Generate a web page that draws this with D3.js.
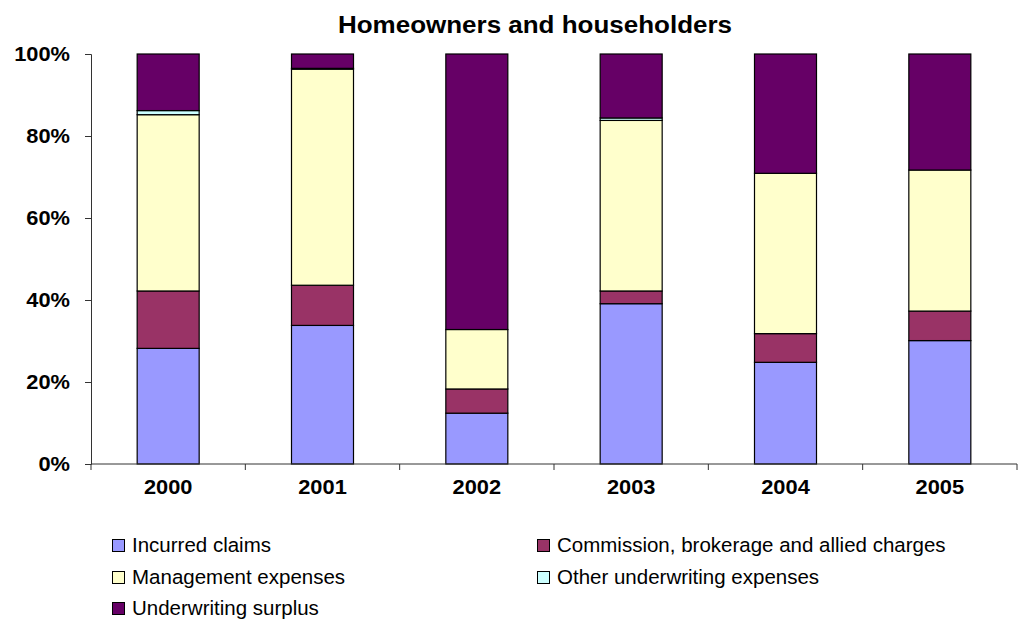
<!DOCTYPE html>
<html>
<head>
<meta charset="utf-8">
<script src="https://cdn.jsdelivr.net/npm/d3@7"></script>
<style>
  html, body { margin: 0; padding: 0; background: #fff; }
  svg { display: block; font-family: "Liberation Sans", Arial, sans-serif; }
</style>
</head>
<body>
<svg id="chart" width="1020" height="624"></svg>
<script>
// Years on the category axis
const years = ["2000", "2001", "2002", "2003", "2004", "2005"];

// Share of premium (%) for each component, stacked bottom to top
const incurredClaims = [28.2, 33.8, 12.4, 39.1, 24.8, 30.1];
const commission     = [14.0,  9.8,  5.9,  3.1,  7.0,  7.2];
const management     = [43.0, 52.7, 14.5, 41.6, 39.1, 34.4];
const otherExpenses  = [ 1.0,  0.2,  0.0,  0.6,  0.0,  0.0];
const surplus        = [13.8,  3.5, 67.2, 15.6, 29.1, 28.3];

const seriesNames = [
  "Incurred claims",
  "Commission, brokerage and allied charges",
  "Management expenses",
  "Other underwriting expenses",
  "Underwriting surplus"
];
const seriesColors = ["#9999FF", "#993366", "#FFFFCC", "#CCFFFF", "#660066"];
const yTicks = [0, 0.2, 0.4, 0.6, 0.8, 1.0];

const seriesValues = [incurredClaims, commission, management, otherExpenses, surplus];
const keys = d3.range(seriesNames.length).map(String);
const rows = years.map((y, i) => {
  const total = d3.sum(seriesValues, s => s[i]);
  const r = { year: y };
  seriesValues.forEach((s, k) => { r[k] = s[i] / total; });
  return r;
});

const svg = d3.select("#chart");
const x = d3.scaleBand().domain(years).range([91, 1017]).paddingInner(0).paddingOuter(0);
const y = d3.scaleLinear().domain([0, 1]).range([464, 54]);
const barW = 62;
const wide = 1.12; // bold labels are drawn slightly widened

const stack = d3.stack().keys(keys);
const layers = stack(rows);

// Bars
svg.append("g").selectAll("g")
  .data(layers)
  .join("g")
  .attr("fill", (d, i) => seriesColors[i])
  .selectAll("rect")
  .data(d => d)
  .join("rect")
  .attr("x", d => x(d.data.year) + x.bandwidth() / 2 - barW / 2)
  .attr("y", d => y(d[1]))
  .attr("width", barW)
  .attr("height", d => Math.max(0, y(d[0]) - y(d[1])))
  .attr("stroke", "#000")
  .attr("stroke-width", 1.2);

// Y axis: line and ticks from d3, labels placed beside them
const yAxis = d3.axisLeft(y).tickValues(yTicks).tickFormat("").tickSize(6);
const gy = svg.append("g").attr("transform", "translate(91,0)").call(yAxis);
gy.select(".domain").attr("stroke", "#333");
gy.selectAll(".tick line").attr("stroke", "#333");
svg.append("g").selectAll("text")
  .data(yTicks)
  .join("text")
  .attr("transform", d => `translate(70,${y(d) + 6.8}) scale(${wide},1)`)
  .attr("text-anchor", "end")
  .attr("font-size", 19.5)
  .attr("font-weight", "bold")
  .text(d3.format(".0%"));

// X axis with tick marks on category boundaries
svg.append("line")
  .attr("x1", 91).attr("x2", 1017).attr("y1", 464).attr("y2", 464)
  .attr("stroke", "#333");
const boundaries = years.map(d => x(d)).concat([x.range()[1]]);
svg.append("g").selectAll("line")
  .data(boundaries)
  .join("line")
  .attr("x1", d => d).attr("x2", d => d)
  .attr("y1", 464).attr("y2", 470)
  .attr("stroke", "#333");
svg.append("g").selectAll("text")
  .data(years)
  .join("text")
  .attr("transform", d => `translate(${x(d) + x.bandwidth() / 2},494) scale(${wide},1)`)
  .attr("text-anchor", "middle")
  .attr("font-size", 19.5)
  .attr("font-weight", "bold")
  .text(d => d);

// Title
svg.append("text")
  .attr("transform", `translate(535,33) scale(1.13,1)`)
  .attr("text-anchor", "middle")
  .attr("font-size", 23)
  .attr("font-weight", "bold")
  .text("Homeowners and householders");

// Legend, two columns
const legendPos = [
  [112, 552], [537, 552],
  [112, 584], [537, 584],
  [112, 615]
];
const lg = svg.append("g").selectAll("g")
  .data(seriesNames)
  .join("g")
  .attr("transform", (d, i) => `translate(${legendPos[i][0]},${legendPos[i][1]})`);
lg.append("rect")
  .attr("x", 0.5).attr("y", -12.5).attr("width", 12).attr("height", 12)
  .attr("fill", (d, i) => seriesColors[i])
  .attr("stroke", "#000").attr("stroke-width", 1);
lg.append("text")
  .attr("x", 20).attr("y", 0)
  .attr("font-size", 20.5)
  .text(d => d);
</script>
</body>
</html>
